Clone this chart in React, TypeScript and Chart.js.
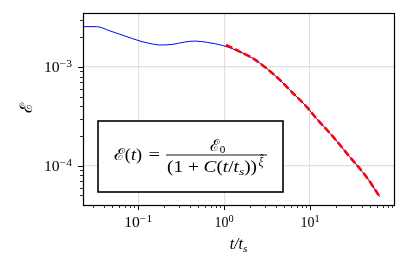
import React, { useEffect, useRef } from 'react';
import { Chart, registerables } from 'chart.js';

Chart.register(...registerables);

// ---- data ----
const simT = [0.0228, 0.0328, 0.0469, 0.070, 0.105, 0.137, 0.179, 0.247, 0.349, 0.456, 0.645, 0.966, 1.52, 2.17, 3.11, 4.45, 6.34, 9.08, 11.9, 18.5, 28.9, 45.3, 64.6];
const simE = [2.56e-3, 2.56e-3, 2.32e-3, 2.06e-3, 1.83e-3, 1.73e-3, 1.67e-3, 1.69e-3, 1.79e-3, 1.83e-3, 1.77e-3, 1.65e-3, 1.43e-3, 1.22e-3, 9.7e-4, 7.4e-4, 5.42e-4, 3.97e-4, 3.0e-4, 1.97e-4, 1.23e-4, 7.7e-5, 4.85e-5];
const fitT = [1.05, 1.52, 2.17, 3.11, 4.45, 6.34, 9.08, 11.9, 18.5, 28.9, 45.3, 64.6];
const fitE = [1.67e-3, 1.43e-3, 1.22e-3, 9.7e-4, 7.4e-4, 5.42e-4, 3.97e-4, 3.0e-4, 1.97e-4, 1.23e-4, 7.7e-5, 4.85e-5];

const xRange = [0.0228, 94.8];
const yRange = [4.0e-5, 3.52e-3];

const xTickValues = [0.1, 1, 10];
const xTickExponents = ['\u22121', '0', '1'];
const yTickValues = [1e-4, 1e-3];
const yTickExponents = ['\u22124', '\u22123'];

const SERIF = '"Liberation Serif", "DejaVu Serif", serif';

type Run = { t: string; it?: boolean; scale?: number; dy?: number };

function fontOf(size: number, it?: boolean) {
  return `${it ? 'italic ' : ''}${size}px ${SERIF}`;
}

function runsWidth(ctx: CanvasRenderingContext2D, runs: Run[], size: number) {
  let w = 0;
  for (const r of runs) {
    ctx.font = fontOf(size * (r.scale ?? 1), r.it);
    w += ctx.measureText(r.t).width;
  }
  return w;
}

function drawRuns(ctx: CanvasRenderingContext2D, runs: Run[], x: number, y: number, size: number, targetW?: number) {
  const w = runsWidth(ctx, runs, size);
  const k = targetW ? targetW / w : 1;
  ctx.save();
  ctx.translate(x, y);
  ctx.scale(k, 1);
  ctx.textAlign = 'left';
  ctx.textBaseline = 'alphabetic';
  let cx = 0;
  for (const r of runs) {
    ctx.font = fontOf(size * (r.scale ?? 1), r.it);
    ctx.fillText(r.t, cx, r.dy ?? 0);
    cx += ctx.measureText(r.t).width;
  }
  ctx.restore();
  return w * k;
}

const isDecade = (v: number) => {
  if (!(v > 0)) return false;
  const l = Math.log10(v);
  return Math.abs(l - Math.round(l)) < 1e-6;
};

const decoPlugin = {
  id: 'deco',
  afterDraw(chart: any) {
    const ctx: CanvasRenderingContext2D = chart.ctx;
    const a = chart.chartArea;
    const xs = chart.scales.x;
    const ys = chart.scales.y;
    ctx.save();
    ctx.fillStyle = '#000';
    ctx.strokeStyle = '#000';

    // frame
    ctx.lineWidth = 1.2;
    ctx.strokeRect(Math.round(a.left) + 0.5, Math.round(a.top) + 0.5, Math.round(a.right - a.left), Math.round(a.bottom - a.top));

    // ticks
    const eachLogTick = (min: number, max: number, fn: (v: number, major: boolean) => void) => {
      for (let e = Math.floor(Math.log10(min)); e <= Math.ceil(Math.log10(max)); e++) {
        for (let m = 1; m <= 9; m++) {
          const v = m * Math.pow(10, e);
          if (v > min * 1.0001 && v < max * 0.9999) fn(v, m === 1);
        }
      }
    };
    eachLogTick(xRange[0], xRange[1], (v, major) => {
      const px = Math.round(xs.getPixelForValue(v)) + 0.5;
      ctx.lineWidth = major ? 1 : 0.8;
      ctx.beginPath();
      ctx.moveTo(px, a.bottom);
      ctx.lineTo(px, a.bottom + (major ? 5 : 3));
      ctx.stroke();
    });
    eachLogTick(yRange[0], yRange[1], (v, major) => {
      const py = Math.round(ys.getPixelForValue(v)) + 0.5;
      ctx.lineWidth = major ? 1 : 0.8;
      ctx.beginPath();
      ctx.moveTo(a.left, py);
      ctx.lineTo(a.left - (major ? 5 : 3), py);
      ctx.stroke();
    });

    // tick labels
    const TS = 14;
    const tickRuns = (exp: string): Run[] => [{ t: '10' }, { t: exp, scale: 0.74, dy: -5.5 }];
    const tickW = (exp: string) => (exp.length > 1 ? 28 : undefined);
    xTickValues.forEach((v, i) => {
      const runs = tickRuns(xTickExponents[i]);
      const w = tickW(xTickExponents[i]) ?? runsWidth(ctx, runs, TS);
      drawRuns(ctx, runs, xs.getPixelForValue(v) - w / 2, 227, TS, tickW(xTickExponents[i]));
    });
    yTickValues.forEach((v, i) => {
      const runs = tickRuns(yTickExponents[i]);
      const w = tickW(yTickExponents[i]) ?? runsWidth(ctx, runs, TS);
      drawRuns(ctx, runs, 72 - w, ys.getPixelForValue(v) + 5.5, TS, tickW(yTickExponents[i]));
    });

    // axis titles
    const xTitle: Run[] = [{ t: 't/t', it: true, scale: 1 }, { t: 's', it: true, scale: 0.7, dy: 2.5 }];
    const xtw = runsWidth(ctx, xTitle, 16);
    drawRuns(ctx, xTitle, (a.left + a.right) / 2 - xtw / 2, 249, 16);

    ctx.save();
    ctx.translate(27.5, 108);
    ctx.rotate(-Math.PI / 2);
    ctx.font = fontOf(17);
    ctx.textAlign = 'center';
    ctx.textBaseline = 'middle';
    ctx.fillText('\u2130', 0, 0);
    ctx.restore();

    // formula box
    const bx = 98, by = 121, bw = 185, bh = 71;
    ctx.fillStyle = '#fff';
    ctx.fillRect(bx, by, bw, bh);
    ctx.lineWidth = 1.6;
    ctx.strokeStyle = '#000';
    ctx.strokeRect(bx, by, bw, bh);
    ctx.fillStyle = '#000';

    const FS = 16;
    const barY = 154.5;
    drawRuns(ctx, [{ t: '\u2130' }, { t: '(' }, { t: 't', it: true }, { t: ')' }], 113.5, 159.5, FS, 28.5);
    drawRuns(ctx, [{ t: '=' }], 148.5, 159.5, FS, 11.5);
    ctx.lineWidth = 0.9;
    ctx.beginPath();
    ctx.moveTo(166, barY + 0.5);
    ctx.lineTo(267, barY + 0.5);
    ctx.stroke();
    const num: Run[] = [{ t: '\u2130' }, { t: '0', scale: 0.7, dy: 2.5 }];
    const nw = runsWidth(ctx, num, FS);
    drawRuns(ctx, num, 217.5 - nw / 2, 150.5, FS);
    const den: Run[] = [
      { t: '(1 + ' },
      { t: 'C', it: true },
      { t: '(' },
      { t: 't', it: true },
      { t: '/' },
      { t: 't', it: true },
      { t: 's', it: true, scale: 0.7, dy: 2.5 },
      { t: '))' },
    ];
    drawRuns(ctx, den, 167, 172, FS, 90);
    // exponent xi with hat
    const ES = 11.5;
    ctx.font = fontOf(ES, true);
    ctx.textAlign = 'left';
    ctx.textBaseline = 'alphabetic';
    const xiX = 258.5;
    ctx.fillText('\u03BE', xiX, 166);
    const xiW = ctx.measureText('\u03BE').width;
    ctx.font = fontOf(ES);
    ctx.textAlign = 'center';
    ctx.fillText('\u02C6', xiX + xiW / 2 + 1, 163);

    ctx.restore();
  },
};

export default function App() {
  const ref = useRef<HTMLCanvasElement | null>(null);
  useEffect(() => {
    if (!ref.current) return;
    const gridColor = (c: any) => (isDecade(c.tick?.value) ? '#e0e0e0' : 'rgba(0,0,0,0)');
    const chart = new Chart(ref.current, {
      type: 'line',
      data: {
        datasets: [
          {
            label: 'fit',
            data: fitT.map((t, i) => ({ x: t, y: fitE[i] })),
            borderColor: '#ff0000',
            borderWidth: 2.6,
            borderDash: [7, 3],
            pointRadius: 0,
            cubicInterpolationMode: 'monotone',
            order: 0,
          },
          {
            label: 'sim',
            data: simT.map((t, i) => ({ x: t, y: simE[i] })),
            borderColor: '#0000ff',
            borderWidth: 1,
            pointRadius: 0,
            cubicInterpolationMode: 'monotone',
            order: 1,
          },
        ],
      },
      options: {
        responsive: false,
        animation: false,
        events: [],
        layout: { padding: { left: 0, top: 13, right: 21, bottom: 0 } },
        plugins: { legend: { display: false }, tooltip: { enabled: false } },
        scales: {
          x: {
            type: 'logarithmic',
            min: xRange[0],
            max: xRange[1],
            ticks: { display: false, autoSkip: false },
            grid: { color: gridColor, lineWidth: 1.2, drawTicks: false },
            border: { display: false },
            afterFit: (s: any) => {
              s.height = 52;
            },
          },
          y: {
            type: 'logarithmic',
            min: yRange[0],
            max: yRange[1],
            ticks: { display: false, autoSkip: false },
            grid: { color: gridColor, lineWidth: 1.2, drawTicks: false },
            border: { display: false },
            afterFit: (s: any) => {
              s.width = 83;
            },
          },
        },
      },
      plugins: [decoPlugin],
    } as any);
    return () => chart.destroy();
  }, []);
  return (
    <div style={{ position: 'fixed', left: 0, top: 0, width: 415, height: 257, background: '#fff' }}>
      <canvas ref={ref} width={415} height={257} style={{ display: 'block' }} />
    </div>
  );
}
